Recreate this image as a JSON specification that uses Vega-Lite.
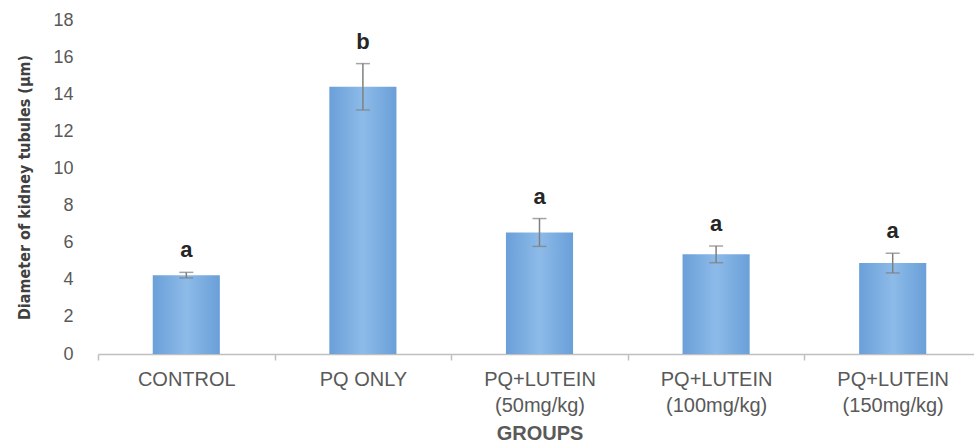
{
  "$schema": "https://vega.github.io/schema/vega-lite/v6.json",
  "width": 883,
  "height": 334,
  "autosize": "none",
  "padding": {"left": 98, "top": 20, "right": 0, "bottom": 91},
  "background": "white",
  "config": {
    "view": {"stroke": null},
    "font": "Liberation Sans",
    "axisY": {
      "title": "Diameter of kidney tubules (μm)",
      "titleFont": "DejaVu Sans Condensed, Liberation Sans",
      "titleFontSize": 16,
      "titleFontWeight": "bold",
      "titleColor": "#404040",
      "titlePadding": 20,
      "labelOverlap": false,
      "labelFlush": false,
      "labelFontSize": 18,
      "labelColor": "#595959",
      "labelPadding": 25,
      "domain": false,
      "ticks": false,
      "grid": false
    }
  },
  "data": {
    "values": [
      {"group": "CONTROL", "mean": 4.25, "lo": 4.1, "hi": 4.4, "letter": "a"},
      {"group": "PQ ONLY", "mean": 14.4, "lo": 13.15, "hi": 15.65, "letter": "b"},
      {"group": "PQ+LUTEIN|(50mg/kg)", "mean": 6.55, "lo": 5.8, "hi": 7.3, "letter": "a"},
      {"group": "PQ+LUTEIN|(100mg/kg)", "mean": 5.38, "lo": 4.92, "hi": 5.82, "letter": "a"},
      {"group": "PQ+LUTEIN|(150mg/kg)", "mean": 4.9, "lo": 4.37, "hi": 5.43, "letter": "a"}
    ]
  },
  "encoding": {
    "x": {
      "field": "group",
      "type": "nominal",
      "sort": null,
      "scale": {"paddingInner": 0, "paddingOuter": 0},
      "axis": {
        "title": "GROUPS",
        "titleFontSize": 20,
        "titleFontWeight": "bold",
        "titleColor": "#595959",
        "titlePadding": 8,
        "labelAngle": 0,
        "labelExpr": "split(datum.label, '|')",
        "labelFontSize": 20,
        "labelColor": "#595959",
        "labelLineHeight": 26,
        "labelPadding": 9,
        "domainColor": "#BFBFBF",
        "domainWidth": 1.5,
        "tickColor": "#BFBFBF",
        "tickWidth": 1.5,
        "tickSize": 6,
        "tickBand": "extent",
        "grid": false
      }
    }
  },
  "layer": [
    {
      "mark": {
        "type": "bar",
        "width": {"band": 0.38},
        "fill": {
          "gradient": "linear",
          "x1": 0, "y1": 0, "x2": 1, "y2": 0,
          "stops": [
            {"offset": 0, "color": "#6A9FD8"},
            {"offset": 0.5, "color": "#8DBBE9"},
            {"offset": 1, "color": "#6A9FD8"}
          ]
        }
      },
      "encoding": {
        "y": {
          "field": "mean",
          "type": "quantitative",
          "scale": {"domain": [0, 18]},
          "axis": {"title": "Diameter of kidney tubules (μm)", "values": [0, 2, 4, 6, 8, 10, 12, 14, 16, 18]}
        }
      }
    },
    {
      "mark": {"type": "rule", "color": "#7F7F7F", "strokeWidth": 1.5},
      "encoding": {
        "y": {"field": "lo", "type": "quantitative", "axis": {"title": "Diameter of kidney tubules (μm)", "values": [0, 2, 4, 6, 8, 10, 12, 14, 16, 18]}},
        "y2": {"field": "hi"}
      }
    },
    {
      "mark": {"type": "tick", "color": "#7F7F7F", "size": 14, "thickness": 1.5},
      "encoding": {"y": {"field": "lo", "type": "quantitative", "axis": {"title": "Diameter of kidney tubules (μm)", "values": [0, 2, 4, 6, 8, 10, 12, 14, 16, 18]}}}
    },
    {
      "mark": {"type": "tick", "color": "#7F7F7F", "size": 14, "thickness": 1.5},
      "encoding": {"y": {"field": "hi", "type": "quantitative", "axis": {"title": "Diameter of kidney tubules (μm)", "values": [0, 2, 4, 6, 8, 10, 12, 14, 16, 18]}}}
    },
    {
      "mark": {"type": "text", "fontSize": 22, "fontWeight": "bold", "color": "#262626", "baseline": "alphabetic", "dy": -15},
      "encoding": {
        "y": {"field": "hi", "type": "quantitative", "axis": {"title": "Diameter of kidney tubules (μm)", "values": [0, 2, 4, 6, 8, 10, 12, 14, 16, 18]}},
        "text": {"field": "letter"}
      }
    }
  ]
}
